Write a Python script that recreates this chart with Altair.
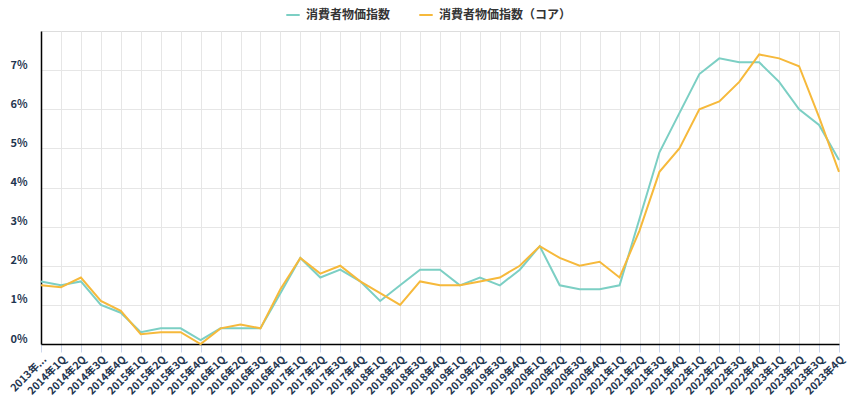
import altair as alt
import pandas as pd

categories = ["2013年4Q"] + [f"{y}年{q}Q" for y in range(2014, 2024) for q in range(1, 5)]

cpi = [1.6, 1.5, 1.6, 1.0, 0.8, 0.3, 0.4, 0.4, 0.1, 0.4, 0.4, 0.4, 1.3, 2.2, 1.7, 1.9,
       1.6, 1.1, 1.5, 1.9, 1.9, 1.5, 1.7, 1.5, 1.9, 2.5, 1.5, 1.4, 1.4, 1.5, 3.2, 4.9,
       5.9, 6.9, 7.3, 7.2, 7.2, 6.7, 6.0, 5.6, 4.7]
core = [1.5, 1.45, 1.7, 1.1, 0.85, 0.25, 0.3, 0.3, 0.0, 0.4, 0.5, 0.4, 1.4, 2.2, 1.8, 2.0,
        1.6, 1.3, 1.0, 1.6, 1.5, 1.5, 1.6, 1.7, 2.0, 2.5, 2.2, 2.0, 2.1, 1.7, 2.9, 4.4,
        5.0, 6.0, 6.2, 6.7, 7.4, 7.3, 7.1, 5.8, 4.4]

series_names = ["消費者物価指数", "消費者物価指数（コア）"]
series_colors = ["#7ccfc4", "#f6b93b"]
y_ticks = [0, 1, 2, 3, 4, 5, 6, 7]

rows = []
for name, vals in zip(series_names, [cpi, core]):
    for c, v in zip(categories, vals):
        rows.append({"quarter": c, "value": v, "series": name})
df = pd.DataFrame(rows)

FONT = "Noto Sans CJK JP"
LABEL_COLOR = "#1f3650"

chart = alt.Chart(df).mark_line(strokeWidth=2).encode(
    x=alt.X(
        "quarter:N",
        sort=categories,
        scale=alt.Scale(type="point", padding=0),
        axis=alt.Axis(
            title=None,
            labelAngle=-45,
            labelFont=FONT,
            labelFontSize=10.5,
            labelFontWeight="bold",
            labelColor=LABEL_COLOR,
            labelExpr="datum.value == '2013年4Q' ? '2013年...' : datum.label",
            labelOverlap=False,
            labelPadding=2,
            domainColor="#000000",
            domainWidth=1.5,
            tickColor="#ccd6eb",
            tickSize=8,
            grid=True,
            gridColor="#e6e6e6",
        ),
    ),
    y=alt.Y(
        "value:Q",
        scale=alt.Scale(domain=[0, 8], nice=False),
        axis=alt.Axis(
            title=None,
            values=y_ticks,
            labelExpr="datum.value + '%'",
            labelFont=FONT,
            labelFontSize=11,
            labelFontWeight="bold",
            labelColor=LABEL_COLOR,
            labelBaseline="bottom",
            labelPadding=14,
            ticks=False,
            domainColor="#000000",
            domainWidth=1.5,
            grid=True,
            gridColor="#e6e6e6",
        ),
    ),
    color=alt.Color(
        "series:N",
        sort=series_names,
        scale=alt.Scale(domain=series_names, range=series_colors),
        legend=alt.Legend(
            title=None,
            orient="none",
            direction="horizontal",
            legendX=244,
            legendY=-24,
            symbolType="stroke",
            symbolStrokeWidth=2,
            symbolSize=180,
            labelFont=FONT,
            labelFontSize=12,
            labelFontWeight="bold",
            labelColor="#333333",
            labelOffset=5,
            columnPadding=24,
        ),
    ),
).properties(
    width=798,
    height=313,
    autosize=alt.AutoSizeParams(type="none"),
    padding={"left": 41, "top": 31, "right": 11, "bottom": 56},
).configure_view(
    stroke="#cccccc",
).configure(
    background="white",
)

chart.save("out.html", embed_options={"renderer": "svg", "actions": False})
